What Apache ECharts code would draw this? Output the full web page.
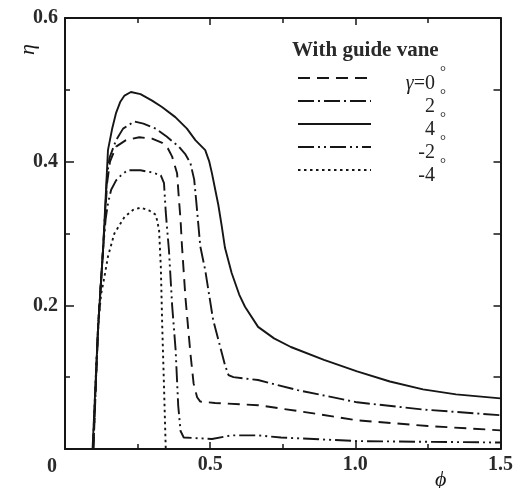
<!DOCTYPE html>
<html>
<head>
<meta charset="utf-8">
<script src="https://cdn.jsdelivr.net/npm/echarts@6/dist/echarts.min.js"></script>
<style>html,body{margin:0;padding:0;background:#fff}#c{width:516px;height:488px}</style>
</head>
<body>
<div id="c"></div>
<script>
// gamma = 0 deg (dashed)
const gamma0 = [[0.098,0],[0.114,0.17],[0.131,0.277],[0.145,0.37],[0.155,0.4],[0.176,0.421],[0.21,0.43],[0.256,0.434],[0.3,0.432],[0.335,0.426],[0.355,0.418],[0.369,0.407],[0.386,0.384],[0.392,0.35],[0.398,0.319],[0.403,0.282],[0.415,0.21],[0.432,0.133],[0.443,0.091],[0.455,0.072],[0.466,0.066],[0.517,0.064],[0.665,0.061],[0.85,0.05],[1.006,0.04],[1.25,0.032],[1.5,0.026]];
// gamma = 2 deg (dash-dot)
const gamma2 = [[0.097,0],[0.114,0.17],[0.131,0.277],[0.145,0.38],[0.153,0.405],[0.176,0.43],[0.2,0.446],[0.239,0.456],[0.27,0.453],[0.313,0.446],[0.35,0.435],[0.392,0.421],[0.415,0.41],[0.432,0.398],[0.445,0.375],[0.452,0.345],[0.458,0.318],[0.466,0.282],[0.483,0.249],[0.51,0.18],[0.551,0.117],[0.563,0.103],[0.58,0.1],[0.665,0.096],[0.801,0.082],[1.006,0.065],[1.233,0.055],[1.5,0.047]];
// gamma = 4 deg (solid)
const gamma4 = [[0.095,0],[0.114,0.17],[0.131,0.277],[0.14,0.35],[0.148,0.416],[0.162,0.445],[0.176,0.468],[0.19,0.483],[0.205,0.492],[0.227,0.497],[0.26,0.494],[0.3,0.485],[0.334,0.476],[0.38,0.462],[0.42,0.446],[0.449,0.43],[0.483,0.416],[0.497,0.4],[0.506,0.384],[0.517,0.362],[0.528,0.34],[0.54,0.31],[0.551,0.28],[0.574,0.245],[0.6,0.215],[0.62,0.198],[0.665,0.17],[0.72,0.154],[0.778,0.142],[0.892,0.124],[1.006,0.108],[1.119,0.094],[1.233,0.083],[1.347,0.076],[1.5,0.0705]];
// gamma = -2 deg (dash-dot-dot)
const gammaM2 = [[0.097,0],[0.114,0.17],[0.131,0.277],[0.14,0.32],[0.148,0.342],[0.159,0.361],[0.176,0.374],[0.193,0.381],[0.215,0.388],[0.26,0.388],[0.3,0.385],[0.33,0.381],[0.341,0.37],[0.347,0.33],[0.352,0.305],[0.358,0.277],[0.369,0.2],[0.381,0.138],[0.39,0.06],[0.398,0.025],[0.409,0.016],[0.506,0.014],[0.574,0.019],[0.665,0.019],[0.744,0.016],[1.006,0.011],[1.5,0.009]];
// gamma = -4 deg (dotted)
const gammaM4 = [[0.096,0],[0.108,0.12],[0.118,0.19],[0.125,0.217],[0.136,0.24],[0.148,0.268],[0.17,0.3],[0.205,0.323],[0.235,0.333],[0.261,0.336],[0.29,0.332],[0.313,0.326],[0.324,0.305],[0.33,0.254],[0.335,0.17],[0.341,0.087],[0.347,0]];

const seriesNames = ['0','2','4','-2','-4'];
const xTicks = [0, 0.5, 1.0, 1.5];
const yTicks = [0, 0.2, 0.4, 0.6];

const FONT = '"Liberation Serif","Times New Roman","DejaVu Serif",serif';
const INK = '#161616';

const chart = echarts.init(document.getElementById('c'), null, {renderer:'canvas'});

function mkSeries(name, data, type){
  return {
    name: name, type: 'line', data: data, symbol: 'none', smooth: false,
    lineStyle: {color: INK, width: 1.9, type: type, cap: 'butt'},
    itemStyle: {color: INK},
    silent: true, animation: false, z: 3
  };
}

const axisCommon = {
  axisLine: {show: true, onZero: false, lineStyle: {color: INK, width: 2}},
  splitLine: {show: false},
};

const option = {
  backgroundColor: '#fff',
  animation: false,
  title: {
    text: 'With guide vane', left: 292, top: 40, padding: 0,
    textStyle: {fontFamily: FONT, fontSize: 21, fontWeight: 'bold', color: '#2a2a2a'}
  },
  legend: {
    orient: 'vertical', left: 292, top: 57, itemWidth: 73, itemHeight: 14, itemGap: -9,
    selectedMode: false,
    itemStyle: {opacity: 0, borderWidth: 0},
    data: seriesNames,
    formatter: function(n){
      if (n === '0') return '{g|γ}{n|=0}{d|°}';
      return '{n|' + n + '}{d|°}';
    },
    textStyle: {
      width: 70, fontFamily: FONT, fontSize: 20, color: '#222', lineHeight: 14,
      rich: {
        g: {fontFamily: FONT, fontSize: 20, fontStyle: 'italic', align: 'right', lineHeight: 14, padding: [12,0,0,0]},
        n: {fontFamily: FONT, fontSize: 20, align: 'right', lineHeight: 14, padding: [12,0,0,0]},
        d: {fontFamily: FONT, fontSize: 15, align: 'right', lineHeight: 14, padding: [0,0,12,5]}
      }
    }
  },
  graphic: [
    {type: 'text', left: 17, top: 44, rotation: Math.PI/2,
     style: {text: 'η', fontFamily: FONT, fontSize: 22, fontStyle: 'italic', fill: INK}},
    {type: 'text', left: 435, top: 469,
     style: {text: 'ϕ', fontFamily: FONT, fontSize: 22, fontStyle: 'italic', fill: INK}}
  ],
  grid: {left: 65, top: 18, right: 11, bottom: 39, containLabel: false},
  xAxis: [
    Object.assign({}, axisCommon, {
      type: 'value', position: 'bottom', min: 0, max: 1.5, interval: 0.5,
      axisTick: {show: true, inside: true, length: 7, lineStyle: {color: INK, width: 1.5}},
      minorTick: {show: true, splitNumber: 2, length: 5, lineStyle: {color: INK, width: 1.5}},
      axisLabel: {
        margin: 6, fontFamily: FONT, fontSize: 20, fontWeight: 'bold', color: '#2a2a2a',
        formatter: function(v){ return v === 0 ? '{z|0}' : v.toFixed(1); },
        rich: {z: {fontFamily: FONT, fontSize: 20, fontWeight: 'bold', color: '#2a2a2a', padding: [2,26,0,0]}}
      }
    }),
    Object.assign({}, axisCommon, {
      type: 'value', position: 'top', min: 0, max: 1.5, interval: 0.5,
      axisTick: {show: true, inside: true, length: 7, lineStyle: {color: INK, width: 1.5}},
      minorTick: {show: true, splitNumber: 2, length: 5, lineStyle: {color: INK, width: 1.5}},
      axisLabel: {show: false}
    })
  ],
  yAxis: [
    Object.assign({}, axisCommon, {
      type: 'value', position: 'left', min: 0, max: 0.6, interval: 0.2,
      axisTick: {show: true, inside: true, length: 9, lineStyle: {color: INK, width: 1.5}},
      minorTick: {show: true, splitNumber: 2, length: 5, lineStyle: {color: INK, width: 1.5}},
      axisLabel: {
        margin: 7, fontFamily: FONT, fontSize: 20, fontWeight: 'bold', color: '#2a2a2a',
        formatter: function(v){ return v === 0 ? '' : v.toFixed(1); }
      }
    }),
    Object.assign({}, axisCommon, {
      type: 'value', position: 'right', min: 0, max: 0.6, interval: 0.2,
      axisTick: {show: true, inside: true, length: 7, lineStyle: {color: INK, width: 1.5}},
      minorTick: {show: true, splitNumber: 2, length: 7, lineStyle: {color: INK, width: 1.5}},
      axisLabel: {show: false}
    })
  ],
  series: [
    mkSeries('0', gamma0, [12,7]),
    mkSeries('2', gamma2, [16,4,2,4]),
    mkSeries('4', gamma4, 'solid'),
    mkSeries('-2', gammaM2, [16,4,2,4,2,4]),
    mkSeries('-4', gammaM4, [2.5,3.5])
  ]
};
chart.setOption(option);
</script>
</body>
</html>
